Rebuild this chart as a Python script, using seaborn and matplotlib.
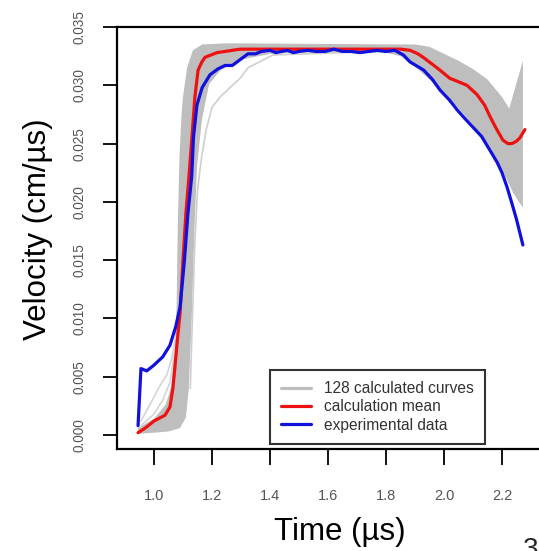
import numpy as np
import pandas as pd
import matplotlib
matplotlib.use("Agg")
import matplotlib.pyplot as plt
import seaborn as sns
from matplotlib.lines import Line2D

# ---------------- data ----------------
blue_x = [0.945, 0.955, 0.975, 1.0, 1.03, 1.055, 1.075, 1.09, 1.105, 1.117, 1.13, 1.136,
          1.148, 1.166, 1.193, 1.22, 1.245, 1.27, 1.297, 1.324, 1.35, 1.37, 1.40, 1.42,
          1.44, 1.46, 1.48, 1.50, 1.53, 1.56, 1.59, 1.62, 1.65, 1.68, 1.71, 1.74, 1.77,
          1.80, 1.83, 1.86, 1.883, 1.91, 1.93, 1.96, 1.986, 2.02, 2.045, 2.07, 2.10,
          2.13, 2.159, 2.183, 2.20, 2.217, 2.235, 2.25, 2.262, 2.272]
blue_y = [0.0008, 0.0057, 0.0055, 0.0060, 0.0067, 0.0077, 0.0093, 0.0110, 0.0150, 0.0190,
          0.0222, 0.0255, 0.0283, 0.0298, 0.0309, 0.0314, 0.0317, 0.0317, 0.0322, 0.0327,
          0.0327, 0.0329, 0.0330, 0.0328, 0.0329, 0.0330, 0.0328, 0.0329, 0.0330, 0.0329,
          0.0329, 0.0331, 0.0329, 0.0329, 0.0328, 0.0329, 0.0330, 0.0329, 0.0330, 0.0326,
          0.0320, 0.0316, 0.0313, 0.0305, 0.0296, 0.0287, 0.0279, 0.0272, 0.0264, 0.0256,
          0.0244, 0.0234, 0.0225, 0.0213, 0.0198, 0.0185, 0.0173, 0.0163]

red_x = [0.945, 0.97, 1.0, 1.038, 1.055, 1.065, 1.072, 1.08, 1.09, 1.10, 1.11, 1.12,
         1.131, 1.141, 1.152, 1.165, 1.176, 1.217, 1.297, 1.85, 1.883, 1.91, 1.928,
         1.96, 1.986, 2.02, 2.05, 2.079, 2.114, 2.14, 2.159, 2.18, 2.203, 2.22, 2.234,
         2.25, 2.262, 2.279]
red_y = [0.0002, 0.0006, 0.0012, 0.0017, 0.0024, 0.0040, 0.0058, 0.0080, 0.0105, 0.0150,
         0.0190, 0.0220, 0.0256, 0.0290, 0.0313, 0.0320, 0.0324, 0.0328, 0.0331, 0.0331,
         0.0330, 0.0327, 0.0324, 0.0318, 0.0313, 0.0306, 0.0303, 0.0300, 0.0292, 0.0283,
         0.0273, 0.0263, 0.0253, 0.0250, 0.0250, 0.0252, 0.0255, 0.0262]

# envelope of the 128 calculated curves
band_up_x = [0.945, 1.0, 1.04, 1.06, 1.07, 1.078, 1.082, 1.088, 1.095, 1.10, 1.114, 1.134,
             1.166, 1.25, 1.90, 1.95, 2.0, 2.05, 2.10, 2.15, 2.20, 2.225, 2.272]
band_up_y = [0.0006, 0.0014, 0.0026, 0.0042, 0.0070, 0.0110, 0.0180, 0.0240, 0.0275,
             0.0290, 0.0315, 0.0330, 0.0335, 0.0336, 0.0335, 0.0333, 0.0327, 0.0321,
             0.0314, 0.0305, 0.0290, 0.0280, 0.0321]
band_lo_x = [0.945, 1.0, 1.05, 1.09, 1.11, 1.12, 1.13, 1.14, 1.148, 1.165, 1.19, 1.23,
             1.30, 1.40, 1.50, 1.80, 1.85, 1.90, 1.95, 2.0, 2.05, 2.10, 2.15, 2.20, 2.24,
             2.272]
band_lo_y = [0.0001, 0.0002, 0.0003, 0.0006, 0.0015, 0.0040, 0.0100, 0.0180, 0.0230,
             0.0270, 0.0301, 0.0313, 0.0322, 0.0327, 0.0328, 0.0328, 0.0325, 0.0316,
             0.0305, 0.0294, 0.0280, 0.0266, 0.0250, 0.0228, 0.0207, 0.0195]

# a few individual calculated curves that stand out of the band
slow_x = [1.125, 1.14, 1.15, 1.165, 1.18, 1.20, 1.228, 1.262, 1.297, 1.324, 1.41, 1.53, 1.65]
slow_y = [0.0040, 0.0160, 0.0210, 0.0240, 0.0262, 0.0281, 0.0290, 0.0298, 0.0306, 0.0315,
          0.0326, 0.0327, 0.0328]
faint1_x = [0.955, 0.99, 1.02, 1.045, 1.06, 1.075]
faint1_y = [0.0012, 0.0028, 0.0042, 0.0052, 0.0065, 0.0085]
faint2_x = [0.955, 1.0, 1.03, 1.055, 1.07]
faint2_y = [0.0008, 0.0018, 0.0030, 0.0045, 0.0070]

x_ticks = [1.0, 1.2, 1.4, 1.6, 1.8, 2.0, 2.2]
x_tick_labels = ["1.0", "1.2", "1.4", "1.6", "1.8", "2.0", "2.2"]
y_ticks = [0.000, 0.005, 0.010, 0.015, 0.020, 0.025, 0.030, 0.035]
y_tick_labels = ["0.000", "0.005", "0.010", "0.015", "0.020", "0.025", "0.030", "0.035"]

legend_labels = ["128 calculated curves", "calculation mean", "experimental data"]

# ---------------- style ----------------
sns.set_style("white")
plt.rcParams["font.family"] = ["Liberation Sans", "DejaVu Sans"]

GREY = "#bebebe"
RED = "#ee1111"
BLUE = "#1111dd"

fig = plt.figure(figsize=(5.39, 5.51), dpi=100)
ax = fig.add_axes([117 / 539, 1 - 449 / 551, 422 / 539, 422 / 551])

# band
poly_x = band_up_x + band_lo_x[::-1]
poly_y = band_up_y + band_lo_y[::-1]
ax.fill(poly_x, poly_y, color=GREY, lw=0, zorder=1)

for fx, fy, c in [(slow_x, slow_y, "#cfcfcf"), (faint1_x, faint1_y, "#d5d5d5"),
                  (faint2_x, faint2_y, "#d5d5d5")]:
    sns.lineplot(x=fx, y=fy, ax=ax, color=c, lw=1.2, estimator=None, sort=False, zorder=2)

sns.lineplot(x=red_x, y=red_y, ax=ax, color=RED, lw=2.3, estimator=None, sort=False,
             zorder=3)
sns.lineplot(x=blue_x, y=blue_y, ax=ax, color=BLUE, lw=2.3, estimator=None, sort=False,
             zorder=4)

ax.set_xlim(0.8724, 2.3276)
ax.set_ylim(-0.0012, 0.03499)

ax.set_xticks(x_ticks)
ax.set_xticklabels(x_tick_labels)
ax.set_yticks(y_ticks)
ax.set_yticklabels(y_tick_labels, rotation=90, va="center")

ax.tick_params(axis="x", direction="out", length=11.5, width=1.3, color="black",
               pad=17, labelsize=10.5, labelcolor="#555555", bottom=True)
ax.tick_params(axis="y", direction="out", length=10, width=1.3, color="black",
               pad=12, labelsize=9.8, labelcolor="#555555", left=True)

for side in ["top", "left", "bottom"]:
    ax.spines[side].set_visible(True)
    ax.spines[side].set_color("black")
    ax.spines[side].set_linewidth(1.6)
ax.spines["right"].set_visible(False)

ax.set_xlabel("Time (µs)", fontsize=22.5, color="black")
ax.set_ylabel("Velocity (cm/µs)", fontsize=22.5, color="black")
ax.xaxis.set_label_coords((340 - 117) / 422, (449 - 532) / 422)
ax.xaxis.label.set_va("center")
ax.yaxis.set_label_coords((38 - 117) / 422, (449 - 229) / 422)
ax.yaxis.label.set_va("center")

# legend
handles = [Line2D([0], [0], color=GREY, lw=2.3),
           Line2D([0], [0], color=RED, lw=2.3),
           Line2D([0], [0], color=BLUE, lw=2.3)]
leg = ax.legend(handles, legend_labels, loc="lower left",
                bbox_to_anchor=((270 - 117) / 422, (449 - 444) / 422),
                borderaxespad=0, fontsize=11.2, frameon=True, fancybox=False,
                handlelength=1.9, handletextpad=0.85, handleheight=0.7,
                labelspacing=0.22, borderpad=0.72)
leg.get_frame().set_edgecolor("black")
leg.get_frame().set_linewidth(1.5)
for t in leg.get_texts():
    t.set_color("#333333")

fig.text(523 / 539, 1 - 537 / 551, "3", fontsize=20, ha="left", va="top")

fig.savefig("out.png", dpi=100)
